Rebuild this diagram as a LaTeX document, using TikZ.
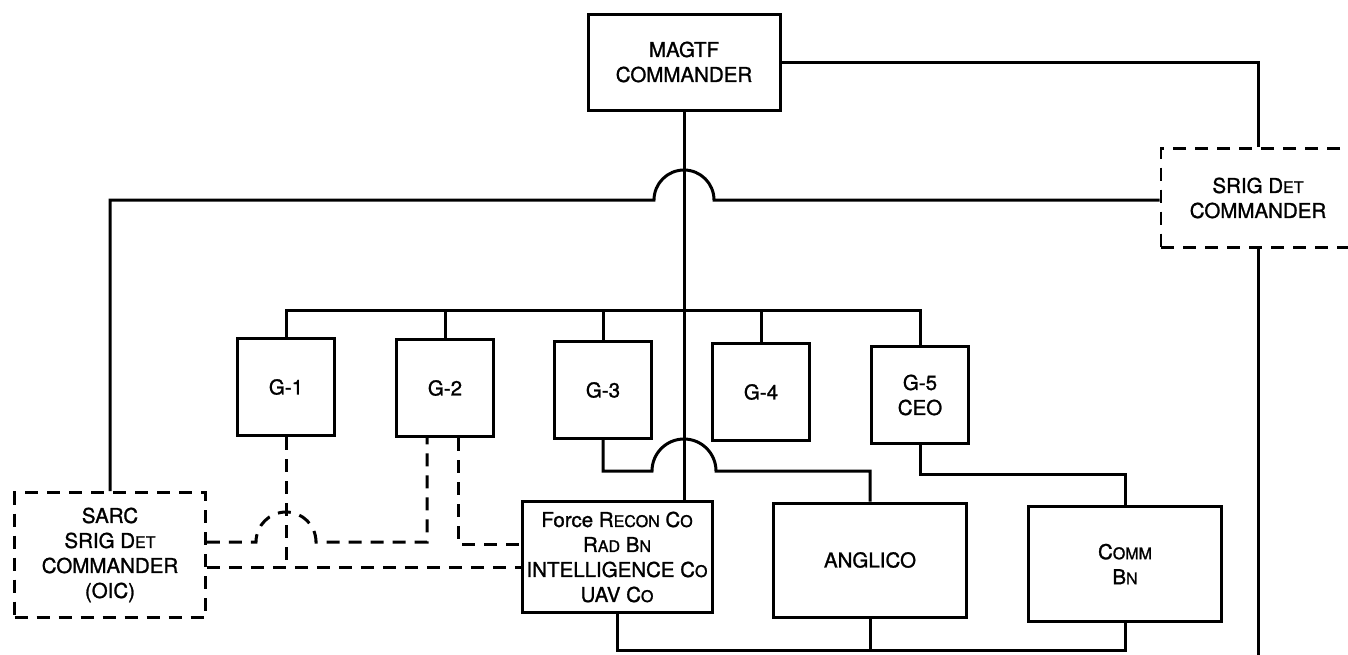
\documentclass[tikz,border=0pt]{standalone}
\usepackage{fontspec}
\setmainfont{TeX Gyre Heros}[FakeBold=1.2]
\newcommand{\smc}[2]{#1{\fontsize{16}{25}\selectfont #2}}
\begin{document}
\begin{tikzpicture}[x=1pt,y=-1pt,
  wire/.style={line width=3pt},
  dwire/.style={line width=3pt, dash pattern=on 13pt off 9pt},
  box/.style={draw, line width=3pt, inner sep=0pt, align=center,
    font=\fontsize{20.5}{25}\selectfont},
  dbox/.style={box, dash pattern=on 13pt off 9pt, line width=2.8pt}]
\useasboundingbox (0,0) rectangle (1348,654);
% nodes
\node[box, minimum width=192pt, minimum height=96pt] (magtf) at (684,62) {MAGTF\\COMMANDER};
\node[dbox, minimum width=194pt, minimum height=99pt] (srig) at (1258,198) {\smc{SRIG D}{ET}\\COMMANDER};
\node[dbox, minimum width=191pt, minimum height=125pt] (sarc) at (110,555) {SARC\\\smc{SRIG D}{ET}\\COMMANDER\\(OIC)};
\node[box, minimum width=97pt, minimum height=97pt] (g1) at (286,387) {G-1};
\node[box, minimum width=97pt, minimum height=97pt] (g2) at (445,388) {G-2};
\node[box, minimum width=97pt, minimum height=97pt] (g3) at (603,390) {G-3};
\node[box, minimum width=97pt, minimum height=97pt] (g4) at (761,392) {G-4};
\node[box, minimum width=97pt, minimum height=97pt] (g5) at (920,395) {G-5\\CEO};
\node[box, minimum width=190pt, minimum height=111pt] (recon) at (617,557) {Force \smc{R}{ECON} \smc{C}{O}\\\smc{R}{AD} \smc{B}{N}\\INTELLIGENCE \smc{C}{O}\\UAV \smc{C}{O}};
\node[box, minimum width=193pt, minimum height=114pt] (anglico) at (870,560) {ANGLICO};
\node[box, minimum width=193pt, minimum height=115pt] (comm) at (1125,564) {\smc{C}{OMM}\\\smc{B}{N}};
% helper coordinates
\coordinate (topy) at (0,200);
\coordinate (rowy) at (0,310);
\coordinate (j2y) at (0,471);
\coordinate (g5y) at (0,474);
\coordinate (boty) at (0,650);
\coordinate (d1) at (427,0);
\coordinate (d2) at (458,0);
\coordinate (dy1) at (0,542);
\coordinate (dy2) at (0,544);
\coordinate (dy3) at (0,567);
% solid connectors
\draw[wire] (magtf.south) -- (magtf.south |- recon.north);
\draw[wire] (magtf.east) -| (srig.north);
\draw[wire] (sarc.north) -- (sarc.north |- topy) -- (654,200)
  arc[start angle=180, end angle=0, radius=30pt] -- (srig.west |- topy);
\draw[wire] (g1.north) |- (g5.north |- rowy) -- (g5.north);
\foreach \g in {g2,g3,g4} \draw[wire] (\g.north) -- (\g.north |- rowy);
\draw[wire] (g3.south) -- (g3.south |- j2y) -- (652,471)
  arc[start angle=180, end angle=0, radius=32pt] -- (anglico.north |- j2y) -- (anglico.north);
\draw[wire] (g5.south) -- (g5.south |- g5y) -| (comm.north);
\draw[wire] (recon.south) -- (recon.south |- boty) -| (comm.south);
\draw[wire] (anglico.south) -- (anglico.south |- boty);
\draw[wire] (srig.south) -- (srig.south |- 0,670);
% dashed connectors
\draw[dwire] (g1.south) -- (g1.south |- dy3);
\draw[dwire] (sarc.east |- dy3) -- (recon.west |- dy3);
\draw[dwire] (sarc.east |- dy1) -- (256,542)
  arc[start angle=180, end angle=0, radius=30pt] -- (d1 |- dy1) -- (g2.south -| d1);
\draw[dwire] (g2.south -| d2) |- (recon.west |- dy2);
\end{tikzpicture}
\end{document}
